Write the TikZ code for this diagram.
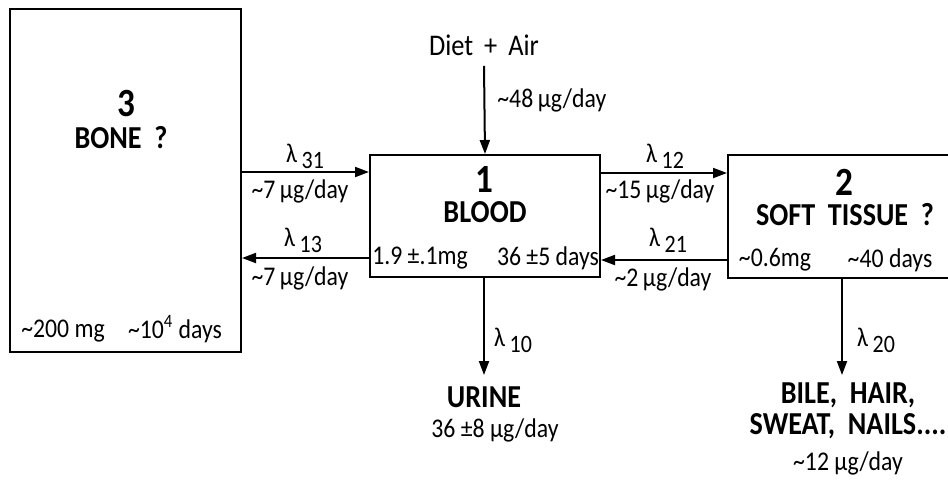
\documentclass[tikz,border=0pt]{standalone}
\usepackage{fontspec}
\setmainfont{Carlito}[FakeStretch=0.88]
\usetikzlibrary{arrows.meta}

% rate constant lambda with its lowered index
\newcommand{\lam}[1]{λ\,\raisebox{-3pt}{\fontsize{12.5}{12}\selectfont #1}}
\newcommand{\apx}{\textasciitilde}

\begin{document}
\begin{tikzpicture}[
  x=0.5pt, y=-0.5pt,
  font=\fontsize{13.5}{15}\selectfont,
  >={Triangle[length=7pt,width=5pt]},
  comp/.style={draw,line width=1pt,inner sep=0pt},
  flow/.style={->,line width=1pt},
  title/.style={inner sep=0pt,font=\fontsize{16}{15.5}\selectfont\bfseries},
  num/.style={inner sep=0pt,font=\fontsize{20}{20}\selectfont\bfseries},
  lbl/.style={inner sep=1pt},
]
\useasboundingbox (0,0) rectangle (948,479);
\clip (0,0) rectangle (948,479);

% ---- compartments ----
\node[comp,minimum width=115.5pt,minimum height=171.5pt] (bone) at (125.5,180.5) {};
\node[comp,minimum width=115pt,minimum height=61pt] (blood) at (485,216) {};
\node[comp,minimum width=120pt,minimum height=61.5pt] (soft) at (848,216.5) {};

% bone
\node[num]   (bonenum)  at (126,104) {3};
\node[title] (bonename) at (121,138) {BONE \ ?};
\node[lbl]   (bonemass) at (63,331)  {\apx200 mg};
\node[lbl]   (bonetime) at (175,329) {\apx10\textsuperscript{4} days};

% blood
\node[num]   (bloodnum)  at (484,179) {1};
\node[title] (bloodname) at (485,212) {BLOOD};
\node[lbl]   (bloodmass) at (420,258) {1.9 ±.1mg};
\node[lbl]   (bloodtime) at (548,258) {36 ±5 days};

% soft tissue
\node[num]   (softnum)  at (844,182) {2};
\node[title] (softname) at (845,215) {SOFT \ TISSUE \ ?};
\node[lbl]   (softmass) at (775,260) {\apx0.6mg};
\node[lbl]   (softtime) at (890,260) {\apx40 days};

% ---- intake ----
\node[lbl,font=\fontsize{15}{17}\selectfont] (diet) at (484,45) {Diet \,+\, Air};
\node[lbl,anchor=west] (dietrate) at (495,100) {\apx48\,μg/day};
\draw[flow] ([yshift=-4pt]diet.south) -- (blood.north);

% ---- exchange between compartments ----
\coordinate (r31) at (0,172);
\coordinate (r13) at (0,258);
\coordinate (r12) at (0,173);
\coordinate (r21) at (0,260);

\draw[flow] (bone.east |- r31) -- (blood.west |- r31);
\node[lbl] (l31) at (305,156) {\lam{31}};
\node[lbl] (q31) at (300,191) {\apx7\,μg/day};

\draw[flow] (blood.west |- r13) -- (bone.east |- r13);
\node[lbl] (l13) at (303,240) {\lam{13}};
\node[lbl] (q13) at (300,278) {\apx7\,μg/day};

\draw[flow] (blood.east |- r12) -- (soft.west |- r12);
\node[lbl] (l12) at (665,156) {\lam{12}};
\node[lbl] (q12) at (660,191) {\apx15\,μg/day};

\draw[flow] (soft.west |- r21) -- (blood.east |- r21);
\node[lbl] (l21) at (668,240) {\lam{21}};
\node[lbl] (q21) at (663,279) {\apx2\,μg/day};

% ---- excretion ----
\coordinate (urinetip) at (484,375);
\coordinate (biletip) at (842,375);

\draw[flow] (blood.south -| urinetip) -- (urinetip);
\node[lbl] (l10) at (513,340) {\lam{10}};
\node[title] (urine) at (484,397) {URINE};
\node[lbl] (urinerate) at (495,430) {36 ±8 μg/day};

\draw[flow] (soft.south -| biletip) -- (biletip);
\node[lbl] (l20) at (876,340) {\lam{20}};
\node[title,align=center] (bile) at (848,411)
     {BILE, \ HAIR,\\ SWEAT, \ NAILS....};
\node[lbl] (bilerate) at (848,463) {\apx12 μg/day};
\end{tikzpicture}
\end{document}
